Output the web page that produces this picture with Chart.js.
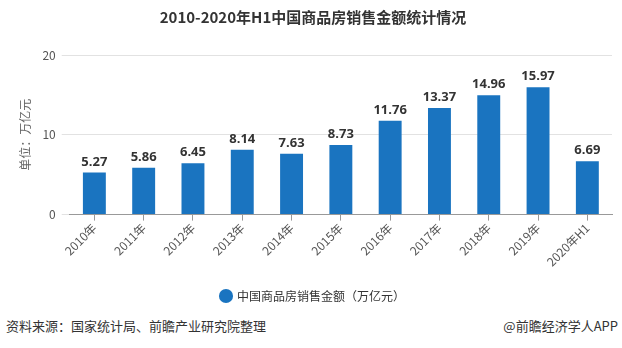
<!DOCTYPE html>
<html>
<head>
<meta charset="utf-8">
<script src="https://cdn.jsdelivr.net/npm/chart.js@4/dist/chart.umd.min.js"></script>
<style>
    html, body { margin: 0; padding: 0; background: #fff; }
    .wrap { position: relative; width: 622px; height: 348px; overflow: hidden; }
    .chart-container { position: absolute; left: 0; top: 0; width: 622px; height: 312px; }
    .foot { position: absolute; top: 316px; font: 13px "Noto Sans CJK SC", sans-serif; color: #333; }
    .foot.left { left: 6px; }
    .foot.right { right: 4px; }
</style>
</head>
<body>
<div class="wrap">
    <div class="chart-container"><canvas id="salesChart"></canvas></div>
    <div class="foot left">资料来源：国家统计局、前瞻产业研究院整理</div>
    <div class="foot right">@前瞻经济学人APP</div>
</div>
<script>
const years = ["2010年", "2011年", "2012年", "2013年", "2014年", "2015年", "2016年", "2017年", "2018年", "2019年", "2020年H1"];
const salesAmount = [5.27, 5.86, 6.45, 8.14, 7.63, 8.73, 11.76, 13.37, 14.96, 15.97, 6.69];
const yTicks = [0, 10, 20];

const FONT = "'Noto Sans CJK SC', 'Noto Sans', sans-serif";

// values printed above each bar
const barLabels = {
    id: "barLabels",
    afterDatasetsDraw(chart) {
        const ctx = chart.ctx;
        const meta = chart.getDatasetMeta(0);
        ctx.save();
        ctx.font = "bold 13px 'Open Sans', " + FONT;
        ctx.fillStyle = "#333";
        ctx.textAlign = "center";
        ctx.textBaseline = "bottom";
        meta.data.forEach((bar, i) => {
            ctx.fillText(salesAmount[i].toFixed(2), bar.x, bar.y - 4);
        });
        ctx.restore();
    }
};

const ctx = document.getElementById("salesChart").getContext("2d");
new Chart(ctx, {
    type: "bar",
    data: {
        labels: years,
        datasets: [{
            label: "中国商品房销售金额（万亿元）",
            data: salesAmount,
            backgroundColor: "#1a74c0",
            borderWidth: 0,
            barPercentage: 0.5,
            categoryPercentage: 0.93,
        }],
    },
    options: {
        responsive: true,
        maintainAspectRatio: false,
        animation: false,
        layout: {
            padding: { left: 14, right: 10, top: 0, bottom: 0 }
        },
        plugins: {
            title: {
                display: true,
                text: "2010-2020年H1中国商品房销售金额统计情况",
                color: "#333",
                font: { family: FONT, size: 15, weight: "bold" },
                padding: { top: 8, bottom: 29 },
            },
            legend: {
                position: "bottom",
                labels: {
                    usePointStyle: true,
                    pointStyle: "circle",
                    boxWidth: 10,
                    boxHeight: 10,
                    color: "#333",
                    font: { family: FONT, size: 12 },
                    padding: 21,
                },
            },
            tooltip: { enabled: false },
        },
        scales: {
            x: {
                grid: {
                    display: true,
                    drawOnChartArea: false,
                    offset: false,
                    tickLength: 6,
                    color: "#999",
                },
                border: { display: true, color: "#999" },
                ticks: {
                    color: "#555",
                    minRotation: 45,
                    maxRotation: 45,
                    font: { family: FONT, size: 12 },
                    padding: 0,
                },
            },
            y: {
                min: 0,
                max: 20,
                afterBuildTicks(axis) {
                    axis.ticks = yTicks.map(v => ({ value: v }));
                },
                grid: {
                    color: "#e2e2e2",
                    tickLength: 8,
                },
                border: { display: false },
                ticks: {
                    color: "#555",
                    font: { family: FONT, size: 12 },
                    padding: 6,
                },
                title: {
                    display: true,
                    text: "单位：万亿元",
                    color: "#666",
                    font: { family: FONT, size: 12 },
                    padding: { bottom: 4 },
                },
            },
        },
    },
    plugins: [barLabels],
});
</script>
</body>
</html>
